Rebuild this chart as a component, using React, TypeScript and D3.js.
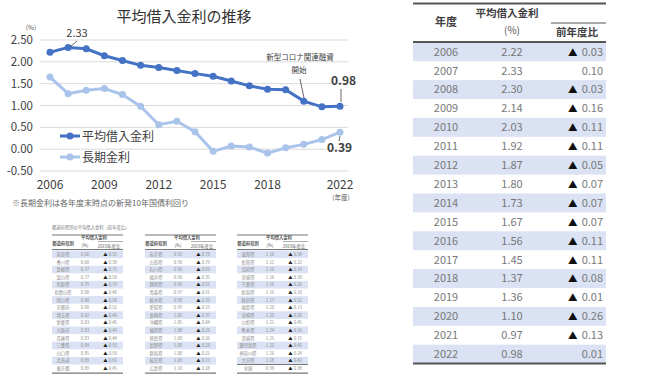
import React from "react";
import * as d3 from "d3";

const years = [2006, 2007, 2008, 2009, 2010, 2011, 2012, 2013, 2014, 2015, 2016, 2017, 2018, 2019, 2020, 2021, 2022];
const avgRate = [2.22, 2.33, 2.30, 2.14, 2.03, 1.92, 1.87, 1.80, 1.73, 1.67, 1.56, 1.45, 1.37, 1.36, 1.10, 0.97, 0.98];
const longRate = [1.65, 1.27, 1.35, 1.39, 1.25, 0.98, 0.56, 0.64, 0.40, -0.05, 0.07, 0.05, -0.09, 0.03, 0.11, 0.22, 0.39];
const yoyDiff = [-0.03, 0.10, -0.03, -0.16, -0.11, -0.11, -0.05, -0.07, -0.07, -0.07, -0.11, -0.11, -0.08, -0.01, -0.26, -0.13, 0.01];
const yTicks = [-0.5, 0, 0.5, 1.0, 1.5, 2.0, 2.5];
const xTicks = [2006, 2009, 2012, 2015, 2018, 2022];

const prefNames1 = ["奈良県", "香川県", "島根県", "富山県", "鳥取県", "和歌山県", "岡山県", "京都府", "埼玉県", "愛媛県", "大阪府", "兵庫県", "三重県", "山口県", "北海道", "東京都"];
const prefRates1 = [0.66, 0.68, 0.77, 0.77, 0.79, 0.80, 0.80, 0.80, 0.82, 0.83, 0.83, 0.83, 0.84, 0.85, 0.89, 0.89];
const prefDiffs1 = [-0.55, -0.39, -0.75, -0.58, -0.79, -0.48, -0.58, -0.52, -0.46, -0.45, -0.43, -0.44, -0.55, -0.59, -0.65, -0.45];
const prefNames2 = ["岩手県", "山形県", "石川県", "福井県", "静岡県", "青森県", "栃木県", "愛知県", "長崎県", "沖縄県", "福岡県", "徳島県", "長野県", "群馬県", "岐阜県", "広島県"];
const prefRates2 = [0.92, 0.96, 0.96, 0.96, 0.96, 0.97, 0.98, 0.99, 1.02, 1.05, 1.08, 1.08, 1.08, 1.08, 1.09, 1.10];
const prefDiffs2 = [-0.79, -0.79, -0.69, -0.35, -0.55, -0.61, -0.32, -0.15, -0.37, -0.04, -0.22, -0.26, -0.28, -0.21, -0.13, -0.28];
const prefNames3 = ["滋賀県", "佐賀県", "高知県", "宮城県", "千葉県", "新潟県", "秋田県", "福島県", "宮崎県", "山梨県", "熊本県", "茨城県", "鹿児島県", "神奈川県", "大分県", "全国"];
const prefRates3 = [1.10, 1.12, 1.16, 1.16, 1.16, 1.16, 1.17, 1.20, 1.20, 1.21, 1.24, 1.25, 1.26, 1.26, 1.28, 0.98];
const prefDiffs3 = [-0.34, -0.22, -0.19, -0.30, -0.26, -0.18, -0.52, -0.13, -0.28, -0.45, -0.16, -0.15, -0.46, -0.24, -0.42, -0.38];

const FONT = "'Noto Sans CJK JP', 'Noto Sans', sans-serif";
const MAIN = "#4472C4";
const LIGHT = "#A9C3EA";
const STRIPE = "#DAE2F3";

function SmallTable({ x0, names, rates, diffs, lastIsTotal }: any) {
  const w = 71;
  const rowY = d3.scaleLinear().domain([0, 1]).range([250.5, 258.1]);
  const fs = 4.3;
  const col1 = x0 + 11, col2 = x0 + 33, col3 = x0 + 57;
  return (
    <g fontFamily={FONT} fontSize={fs} fill="#8a8a8a">
      <line x1={x0} x2={x0 + w} y1={235} y2={235} stroke="#777" strokeWidth={1.2} />
      <text x={col1} y={245} textAnchor="middle" fill="#555" fontWeight="bold">都道府県別</text>
      <text x={x0 + 42} y={239} textAnchor="middle" fill="#555" fontWeight="bold">平均借入金利</text>
      <text x={col2} y={246.5} textAnchor="middle" fill="#555">(%)</text>
      <line x1={x0 + 46} x2={x0 + w} y1={241.5} y2={241.5} stroke="#777" strokeWidth={0.6} />
      <text x={col3} y={247.5} textAnchor="middle" fill="#555">2019年度比</text>
      <line x1={x0} x2={x0 + w} y1={249.5} y2={249.5} stroke="#777" strokeWidth={1} />
      {names.map((n: string, i: number) => (
        <g key={n}>
          {i % 2 === 0 && !(lastIsTotal && i === names.length - 1) ? (
            <rect x={x0} y={rowY(i)} width={w} height={7.6} fill={STRIPE} />
          ) : null}
          <text x={col1} y={rowY(i) + 5.4} textAnchor="middle">{n}</text>
          <text x={col2} y={rowY(i) + 5.4} textAnchor="middle">{rates[i].toFixed(2)}</text>
          <text x={col3 + 8} y={rowY(i) + 5.4} textAnchor="end">
            <tspan fill="#222">{diffs[i] < 0 ? "▲" : ""}</tspan>
            <tspan dx={1}>{Math.abs(diffs[i]).toFixed(2)}</tspan>
          </text>
        </g>
      ))}
      {lastIsTotal ? (
        <line x1={x0} x2={x0 + w} y1={rowY(names.length - 1)} y2={rowY(names.length - 1)} stroke="#777" strokeWidth={1} />
      ) : null}
      <line x1={x0} x2={x0 + w} y1={rowY(names.length) + 1} y2={rowY(names.length) + 1} stroke="#777" strokeWidth={1.2} />
    </g>
  );
}

export default function App() {
  const x = d3.scaleLinear().domain([2006, 2022]).range([50, 340]);
  const y = d3.scaleLinear().domain([-0.5, 2.5]).range([171, 40]);
  const line = d3.line<number>().x((_, i) => x(years[i])).y((d) => y(d));

  const rowY = d3.scaleLinear().domain([0, 1]).range([42.3, 61.2]);
  const tx0 = 413, tx1 = 606;

  return (
    <svg width={650} height={380} style={{ position: "absolute", left: 0, top: 0, background: "#fff" }}>
      {/* Chart */}
      <g fontFamily={FONT}>
        <text x={184} y={22} textAnchor="middle" fontSize={15} fill="#333">平均借入金利の推移</text>
        <text x={31} y={30} textAnchor="middle" fontSize={6.5} fill="#555">(%)</text>
        {yTicks.map((t) => (
          <g key={t}>
            <line x1={40} x2={348} y1={y(t)} y2={y(t)} stroke="#D9D9D9" strokeWidth={1} />
            <text x={33} y={y(t) + 4} textAnchor="end" fontSize={11.5} fill="#404040">{t.toFixed(2)}</text>
          </g>
        ))}
        {xTicks.map((t) => (
          <text key={t} x={x(t)} y={189} textAnchor="middle" fontSize={12} fill="#404040">{t}</text>
        ))}
        <text x={341} y={200} textAnchor="middle" fontSize={6.5} fill="#555">(年度)</text>
        <text x={12} y={206} fontSize={8} fill="#666">※長期金利は各年度末時点の新発10年国債利回り</text>

        <path d={line(longRate) || ""} fill="none" stroke={LIGHT} strokeWidth={3} />
        {longRate.map((v, i) => (
          <circle key={i} cx={x(years[i])} cy={y(v)} r={3.5} fill={LIGHT} />
        ))}
        <path d={line(avgRate) || ""} fill="none" stroke={MAIN} strokeWidth={3} />
        {avgRate.map((v, i) => (
          <circle key={i} cx={x(years[i])} cy={y(v)} r={3.5} fill={MAIN} />
        ))}

        {/* annotations */}
        <text x={77} y={37} textAnchor="middle" fontSize={11} fill="#404040">2.33</text>
        <line x1={77} y1={41} x2={70} y2={47} stroke="#404040" strokeWidth={0.8} />
        <text x={300} y={60} textAnchor="middle" fontSize={7.5} fill="#404040">新型コロナ関連融資</text>
        <text x={299} y={73} textAnchor="middle" fontSize={7.5} fill="#404040">開始</text>
        <line x1={300} y1={79} x2={304} y2={98} stroke="#404040" strokeWidth={0.8} />
        <text x={331} y={85} fontSize={12} fontWeight="bold" fill="#404040">0.98</text>
        <line x1={341} y1={89} x2={341} y2={102} stroke="#404040" strokeWidth={0.8} />
        <text x={327} y={152} fontSize={12} fontWeight="bold" fill="#404040">0.39</text>
        <line x1={340} y1={136} x2={339} y2={141} stroke="#404040" strokeWidth={0.8} />

        {/* legend */}
        <line x1={60} x2={80} y1={136} y2={136} stroke={MAIN} strokeWidth={3} />
        <circle cx={70} cy={136} r={3.5} fill={MAIN} />
        <text x={82} y={140.5} fontSize={12} fill="#404040">平均借入金利</text>
        <line x1={60} x2={80} y1={157} y2={157} stroke={LIGHT} strokeWidth={3} />
        <circle cx={70} cy={157} r={3.5} fill={LIGHT} />
        <text x={82} y={161.5} fontSize={12} fill="#404040">長期金利</text>
      </g>

      {/* Small prefecture tables */}
      <text x={52} y={229} fontFamily={FONT} fontSize={4.3} fill="#777">都道府県別の平均借入金利（前年度比）</text>
      <SmallTable x0={52} names={prefNames1} rates={prefRates1} diffs={prefDiffs1} />
      <SmallTable x0={145} names={prefNames2} rates={prefRates2} diffs={prefDiffs2} />
      <SmallTable x0={237} names={prefNames3} rates={prefRates3} diffs={prefDiffs3} lastIsTotal />

      {/* Right table */}
      <g fontFamily={FONT}>
        {years.map((yr, i) =>
          i % 2 === 0 ? <rect key={yr} x={tx0} y={rowY(i)} width={tx1 - tx0} height={18.9} fill={STRIPE} /> : null
        )}
        <line x1={tx0} x2={tx1} y1={3.5} y2={3.5} stroke="#555" strokeWidth={2} />
        <text x={446} y={26} textAnchor="middle" fontSize={11} fontWeight="bold" fill="#404040">年度</text>
        <text x={507} y={17} textAnchor="middle" fontSize={10.5} fontWeight="bold" fill="#404040">平均借入金利</text>
        <text x={512} y={34} textAnchor="middle" fontSize={10} fill="#555">(%)</text>
        <line x1={551} x2={tx1} y1={23} y2={23} stroke="#555" strokeWidth={1.2} />
        <text x={577} y={36} textAnchor="middle" fontSize={10.5} fontWeight="bold" fill="#404040">前年度比</text>
        <line x1={tx0} x2={tx1} y1={42} y2={42} stroke="#555" strokeWidth={2} />
        {years.map((yr, i) => (
          <g key={yr} fontSize={11} fill="#787878">
            <text x={446} y={rowY(i) + 13.3} textAnchor="middle">{yr}</text>
            <text x={512} y={rowY(i) + 13.3} textAnchor="middle">{avgRate[i].toFixed(2)}</text>
            <text x={603} y={rowY(i) + 13.3} textAnchor="end">
              <tspan fill="#111" fontSize={9.5}>{yoyDiff[i] < 0 ? "▲" : ""}</tspan>
              <tspan dx={yoyDiff[i] < 0 ? 4 : 0}>{Math.abs(yoyDiff[i]).toFixed(2)}</tspan>
            </text>
          </g>
        ))}
        <line x1={tx0} x2={tx1} y1={rowY(years.length)} y2={rowY(years.length)} stroke="#555" strokeWidth={2} />
      </g>
    </svg>
  );
}
